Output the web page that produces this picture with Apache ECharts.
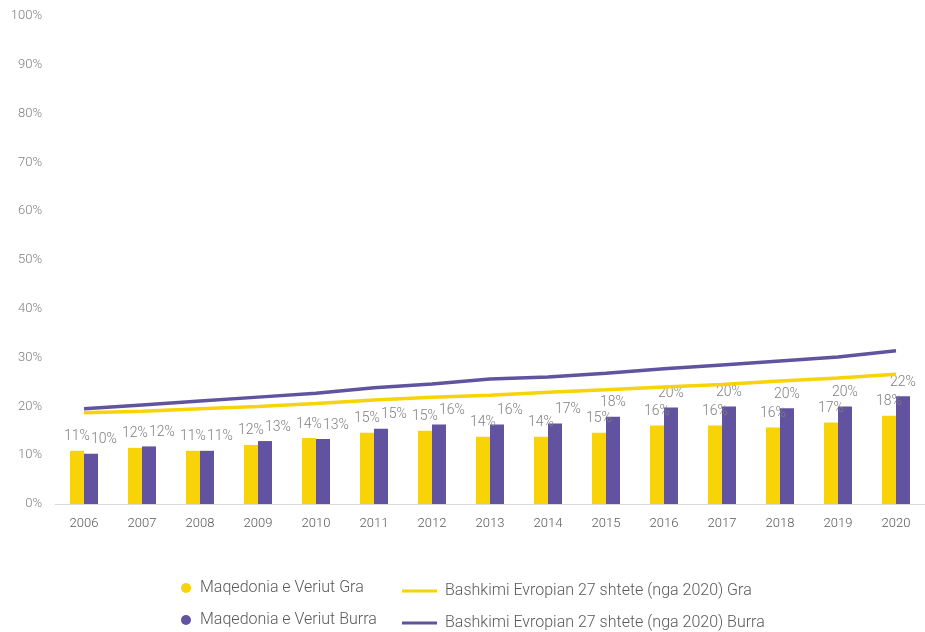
<!DOCTYPE html>
<html>
<head>
<meta charset="utf-8">
<script src="https://cdn.jsdelivr.net/npm/echarts@6/dist/echarts.min.js"></script>
<style>html,body{margin:0;padding:0;background:#fff}#c{width:925px;height:632px}</style>
</head>
<body>
<div id="c"></div>
<script>
var years = ['2006','2007','2008','2009','2010','2011','2012','2013','2014','2015','2016','2017','2018','2019','2020'];
var mkWomen = [10.9,11.5,10.9,12.1,13.5,14.6,15.0,13.8,13.8,14.6,16.1,16.1,15.7,16.7,18.1];
var mkMen = [10.3,11.8,10.9,12.9,13.3,15.4,16.3,16.3,16.5,17.9,19.8,20.0,19.6,20.0,22.1];
var euWomen = [18.7,19.0,19.5,20.0,20.6,21.3,21.9,22.3,22.9,23.4,24.0,24.5,25.2,25.8,26.6];
var euMen = [19.5,20.3,21.1,21.9,22.7,23.8,24.6,25.6,26.0,26.8,27.7,28.5,29.3,30.1,31.4];
var names = ['Maqedonia e Veriut Gra','Maqedonia e Veriut Burra','Bashkimi Evropian 27 shtete (nga 2020) Gra','Bashkimi Evropian 27 shtete (nga 2020) Burra'];
var yellow = '#F7D308', purple = '#6153A0';
var font = 'Roboto';
var chart = echarts.init(document.getElementById('c'));
var labelBase = {
  show: true, position: 'top', distance: 7,
  color: '#808080', fontSize: 14, fontWeight: 300, fontFamily: font,
  formatter: function(p){ return Math.round(p.value) + '%'; }
};
// purple labels nudged right where they would collide with the yellow label
var menData = mkMen.map(function(v, i){
  var close = (v - mkWomen[i]) < 3;
  return {value: v, label: {offset: [close ? 13 : 0, 0]}};
});
var legTxtL = {color: '#595959', fontSize: 16, fontWeight: 300, fontFamily: font, padding: [0,0,0,4]};
var legTxtR = {color: '#595959', fontSize: 16, fontWeight: 300, fontFamily: font, padding: [0,0,0,3]};
function leg(name, left, top, icon, w, h, ts){
  return {data: [name], orient: 'horizontal', left: left, top: top, icon: icon,
    itemWidth: w, itemHeight: h, itemGap: 0, padding: 0, textStyle: ts};
}
chart.setOption({
  animation: false,
  textStyle: {fontFamily: font},
  grid: {left: 55, right: 0, top: 16, bottom: 128},
  legend: [
    leg(names[0], 181, 580, 'circle', 10, 10, legTxtL),
    leg(names[1], 181, 612, 'circle', 10, 10, legTxtL),
    leg(names[2], 402, 583, 'rect', 35, 3, legTxtR),
    leg(names[3], 402, 615, 'rect', 35, 3, legTxtR)
  ],
  xAxis: {
    type: 'category', data: years,
    axisLine: {lineStyle: {color: '#d9d9d9', width: 1}},
    axisTick: {show: false},
    axisLabel: {color: '#595959', fontSize: 13, fontWeight: 300, margin: 13, fontFamily: font}
  },
  yAxis: {
    type: 'value', min: 0, max: 100, interval: 10,
    axisLine: {show: false}, axisTick: {show: false},
    splitLine: {show: false},
    axisLabel: {color: '#808080', fontSize: 13, fontWeight: 300, margin: 13, fontFamily: font, formatter: '{value}%'}
  },
  series: [
    {name: names[0], type: 'bar', data: mkWomen, barWidth: 14, barGap: '0%', itemStyle: {color: yellow}, label: labelBase},
    {name: names[1], type: 'bar', data: menData, barWidth: 14, barGap: '0%', itemStyle: {color: purple}, label: labelBase},
    {name: names[2], type: 'line', data: euWomen, symbol: 'none', lineStyle: {color: yellow, width: 3.5}, itemStyle: {color: yellow}},
    {name: names[3], type: 'line', data: euMen, symbol: 'none', lineStyle: {color: purple, width: 3.5}, itemStyle: {color: purple}}
  ]
});
</script>
</body>
</html>
